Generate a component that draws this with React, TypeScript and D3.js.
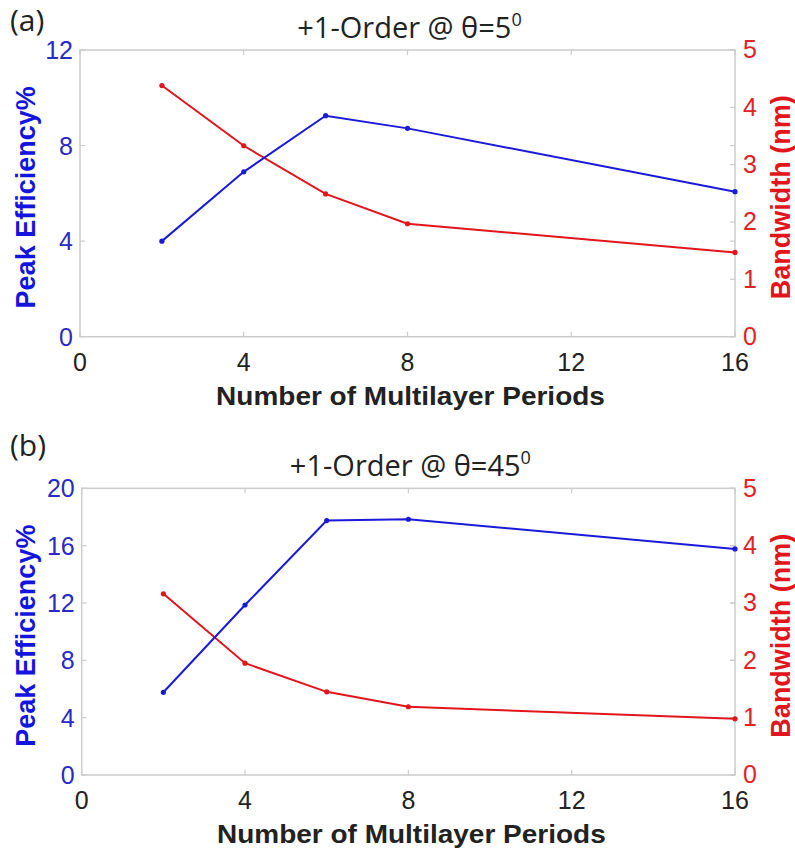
import React from "react";
import * as d3 from "d3";

const periods = [2, 4, 6, 8, 16];
const effA = [4.0, 6.9, 9.25, 8.72, 6.07];
const bwA = [4.38, 3.33, 2.49, 1.97, 1.47];
const effB = [5.77, 11.86, 17.75, 17.84, 15.77];
const bwB = [3.16, 1.95, 1.45, 1.19, 0.98];
const xTicks = [0, 4, 8, 12, 16];
const leftTicksA = [0, 4, 8, 12];
const leftTicksB = [0, 4, 8, 12, 16, 20];
const rightTicks = [0, 1, 2, 3, 4, 5];

const BLUE = "#1a1ad8";
const BLUE_TXT = "#2a2ac4";
const BLUE_LBL = "#1414e0";
const RED = "#e2141c";
const RED_TXT = "#e0222a";
const AX = "#cccccc";
const TXT = "#222222";
const SANS = "'Liberation Sans', Arial, sans-serif";
const TITLE_FONT = "'Open Sans', 'Noto Sans', sans-serif";

type PanelProps = {
  tag: string;
  angle: string;
  x0: number;
  x1: number;
  yTop: number;
  yBot: number;
  leftMax: number;
  leftTicks: number[];
  eff: number[];
  bw: number[];
  tagY: number;
  titleY: number;
};

function Panel(p: PanelProps) {
  const x = d3.scaleLinear().domain([0, 16]).range([p.x0, p.x1]);
  const yl = d3.scaleLinear().domain([0, p.leftMax]).range([p.yBot, p.yTop]);
  const yr = d3.scaleLinear().domain([0, 5]).range([p.yBot, p.yTop]);
  const lineL = d3.line<number>().x((_, i) => x(periods[i])).y((d) => yl(d));
  const lineR = d3.line<number>().x((_, i) => x(periods[i])).y((d) => yr(d));
  const tl = 5;
  const midY = (p.yTop + p.yBot) / 2;
  const midX = (p.x0 + p.x1) / 2;
  return (
    <g>
      <text x={10} y={p.tagY} fontFamily={TITLE_FONT} fontSize={30} fill={TXT}>
        {p.tag}
      </text>
      <text x={midX + 2} y={p.titleY} textAnchor="middle" fontFamily={TITLE_FONT} fontSize={29} fill={TXT}>
        +1-Order @ θ={p.angle}
        <tspan fontSize={18} dy={-12}>0</tspan>
      </text>
      <rect x={p.x0} y={p.yTop} width={p.x1 - p.x0} height={p.yBot - p.yTop} fill="none" stroke={AX} strokeWidth={1.5} />
      {xTicks.map((t) => (
        <g key={"x" + t}>
          <line x1={x(t)} x2={x(t)} y1={p.yBot} y2={p.yBot - tl} stroke={AX} strokeWidth={1.2} />
          <line x1={x(t)} x2={x(t)} y1={p.yTop} y2={p.yTop + tl} stroke={AX} strokeWidth={1.2} />
          <text x={x(t)} y={p.yBot + 34} textAnchor="middle" fontFamily={SANS} fontSize={25} fill={TXT}>
            {t}
          </text>
        </g>
      ))}
      {p.leftTicks.map((t) => (
        <g key={"l" + t}>
          <line x1={p.x0} x2={p.x0 + tl} y1={yl(t)} y2={yl(t)} stroke={AX} strokeWidth={1.2} />
          <line x1={p.x1} x2={p.x1 - tl} y1={yl(t)} y2={yl(t)} stroke={AX} strokeWidth={1.2} />
          <text x={p.x0 - 7} y={yl(t)} dy="0.36em" textAnchor="end" fontFamily={SANS} fontSize={25} fill={BLUE_TXT}>
            {t}
          </text>
        </g>
      ))}
      {rightTicks.map((t) => (
        <g key={"r" + t}>
          <line x1={p.x1} x2={p.x1 - tl} y1={yr(t)} y2={yr(t)} stroke={AX} strokeWidth={1.2} />
          <text x={p.x1 + 8} y={yr(t)} dy="0.33em" fontFamily={SANS} fontSize={25} fill={RED_TXT}>
            {t}
          </text>
        </g>
      ))}
      <path d={lineR(p.bw) || ""} fill="none" stroke={RED} strokeWidth={2} />
      {p.bw.map((v, i) => (
        <circle key={"rb" + i} cx={x(periods[i])} cy={yr(v)} r={2.6} fill={RED} />
      ))}
      <path d={lineL(p.eff) || ""} fill="none" stroke={BLUE} strokeWidth={2} />
      {p.eff.map((v, i) => (
        <circle key={"be" + i} cx={x(periods[i])} cy={yl(v)} r={2.6} fill={BLUE} />
      ))}
      <text
        transform={`translate(${midX + 3},${p.yBot + 68}) scale(1,0.9)`}
        textAnchor="middle"
        fontFamily={SANS}
        fontWeight="bold"
        fontSize={28}
        fill={TXT}
      >
        Number of Multilayer Periods
      </text>
      <text
        transform={`translate(26,${midY + 4}) rotate(-90)`}
        textAnchor="middle"
        dominantBaseline="central"
        fontFamily={SANS}
        fontWeight="bold"
        fontSize={27}
        fill={BLUE_LBL}
      >
        Peak Efficiency%
      </text>
      <text
        transform={`translate(781,${midY + 4}) rotate(-90)`}
        textAnchor="middle"
        dominantBaseline="central"
        fontFamily={SANS}
        fontWeight="bold"
        fontSize={27}
        fill={RED}
      >
        Bandwidth (nm)
      </text>
    </g>
  );
}

export default function App() {
  return (
    <svg width={795} height={851} style={{ position: "absolute", left: 0, top: 0, background: "#fff" }}>
      <rect x={0} y={0} width={795} height={851} fill="#fff" />
      <Panel
        tag="(a)"
        angle="5"
        x0={80}
        x1={735}
        yTop={50}
        yBot={336.7}
        leftMax={12}
        leftTicks={leftTicksA}
        eff={effA}
        bw={bwA}
        tagY={31}
        titleY={38}
      />
      <Panel
        tag="(b)"
        angle="45"
        x0={81.7}
        x1={735}
        yTop={488.3}
        yBot={775}
        leftMax={20}
        leftTicks={leftTicksB}
        eff={effB}
        bw={bwB}
        tagY={456}
        titleY={476}
      />
    </svg>
  );
}
